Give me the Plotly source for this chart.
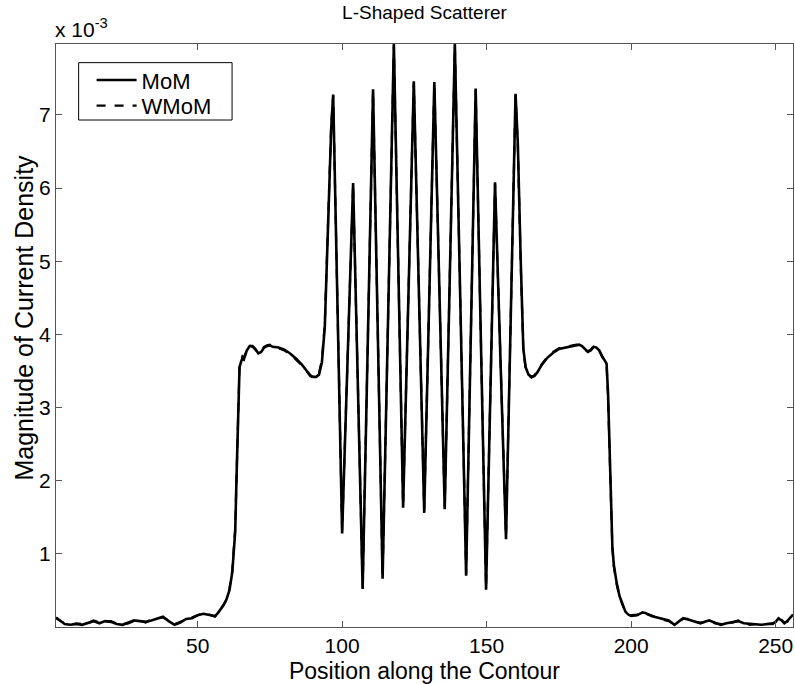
import plotly.graph_objects as go

# Position along the contour (vertices of the plotted polyline)
position = [
    1, 2, 3, 4, 6, 8, 10, 12, 14, 16, 18, 20, 22, 24, 26, 28, 30, 32, 34, 36,
    38, 40, 42, 44, 46, 48, 50, 52, 54, 56, 57, 58, 59, 60, 61, 62, 63, 63.5,
    64, 64.5, 65, 65.5, 66, 67, 68, 69, 70, 71, 72, 73, 74, 75, 76, 78, 80,
    82, 84, 86, 88, 89, 90, 91, 92, 93, 94, 95, 96.2, 96.9,
    100.0, 103.8, 107.1, 110.7, 114.0, 117.9, 121.1, 124.8, 128.4, 131.9,
    135.5, 139.0, 142.9, 146.2, 149.8, 152.9, 156.7, 160.0,
    160.8, 161.8, 162.7, 163.5, 164.5, 165.5, 166.5, 167.5, 169, 171, 173,
    175, 177, 179, 181, 182, 183, 184, 185, 186, 187, 188, 189, 190, 191,
    191.5, 192, 192.5, 193, 193.5, 194, 195, 196, 197, 198, 199, 200, 202,
    204, 205, 207, 209, 211, 213, 215, 216, 218, 220, 222, 224, 226, 227,
    229, 231, 233, 235, 237, 239, 241, 243, 245, 247, 249, 250, 251, 252,
    253, 254, 255, 256,
]

# Magnitude of current density, x 10^-3 (MoM)
mom = [
    0.13, 0.10, 0.06, 0.04, 0.03, 0.04, 0.03, 0.06, 0.08, 0.05, 0.08, 0.07,
    0.04, 0.03, 0.06, 0.09, 0.08, 0.07, 0.09, 0.11, 0.14, 0.08, 0.03, 0.06,
    0.11, 0.12, 0.16, 0.18, 0.16, 0.15, 0.19, 0.24, 0.30, 0.38, 0.50, 0.75,
    1.30, 2.10, 3.00, 3.55, 3.62, 3.68, 3.66, 3.78, 3.84, 3.84, 3.80, 3.74,
    3.76, 3.82, 3.84, 3.85, 3.83, 3.82, 3.79, 3.74, 3.67, 3.59, 3.49, 3.44,
    3.42, 3.42, 3.45, 3.62, 4.10, 5.30, 6.80, 7.28,
    1.28, 6.07, 0.52, 7.35, 0.66, 7.97, 1.63, 7.46, 1.56, 7.45,
    1.61, 7.97, 0.70, 7.36, 0.51, 6.08, 1.20, 7.29,
    6.60, 5.00, 3.80, 3.55, 3.45, 3.42, 3.43, 3.48, 3.58, 3.68, 3.75,
    3.80, 3.82, 3.83, 3.85, 3.86, 3.84, 3.80, 3.76, 3.78, 3.83, 3.82, 3.78,
    3.70, 3.63, 3.60, 3.20, 2.40, 1.60, 1.10, 0.85, 0.60, 0.42, 0.30, 0.21,
    0.17, 0.15, 0.16, 0.20, 0.19, 0.15, 0.13, 0.11, 0.09, 0.03, 0.06, 0.12,
    0.10, 0.08, 0.05, 0.08, 0.09, 0.06, 0.03, 0.05, 0.07, 0.08, 0.05, 0.04,
    0.03, 0.03, 0.04, 0.05, 0.07, 0.12, 0.09, 0.05, 0.08, 0.13, 0.17,
]

# Magnitude of current density, x 10^-3 (WMoM)
wmom = [
    0.12, 0.09, 0.07, 0.05, 0.03, 0.05, 0.04, 0.05, 0.09, 0.06, 0.07, 0.08,
    0.05, 0.04, 0.05, 0.08, 0.09, 0.06, 0.10, 0.12, 0.13, 0.09, 0.04, 0.07,
    0.10, 0.13, 0.15, 0.19, 0.17, 0.14, 0.18, 0.25, 0.31, 0.37, 0.52, 0.78,
    1.35, 2.15, 3.05, 3.58, 3.64, 3.70, 3.68, 3.79, 3.85, 3.83, 3.79, 3.75,
    3.77, 3.83, 3.85, 3.86, 3.84, 3.81, 3.78, 3.73, 3.66, 3.58, 3.48, 3.43,
    3.41, 3.43, 3.47, 3.65, 4.15, 5.35, 6.85, 7.26,
    1.32, 6.05, 0.55, 7.33, 0.68, 7.95, 1.66, 7.44, 1.60, 7.43,
    1.64, 7.95, 0.73, 7.34, 0.54, 6.06, 1.24, 7.27,
    6.55, 4.95, 3.78, 3.54, 3.44, 3.41, 3.44, 3.49, 3.59, 3.69, 3.76,
    3.81, 3.83, 3.84, 3.86, 3.85, 3.83, 3.79, 3.77, 3.79, 3.84, 3.81, 3.77,
    3.69, 3.62, 3.58, 3.15, 2.35, 1.55, 1.08, 0.83, 0.58, 0.41, 0.29, 0.20,
    0.16, 0.16, 0.17, 0.19, 0.18, 0.16, 0.12, 0.10, 0.08, 0.04, 0.07, 0.11,
    0.11, 0.07, 0.06, 0.07, 0.10, 0.05, 0.04, 0.06, 0.06, 0.09, 0.06, 0.03,
    0.04, 0.04, 0.05, 0.04, 0.08, 0.11, 0.10, 0.06, 0.07, 0.12, 0.16,
]

x_ticks = [50, 100, 150, 200, 250]
y_ticks = [1, 2, 3, 4, 5, 6, 7]

FONT = "Liberation Sans, Arial, sans-serif"

fig = go.Figure()
fig.add_trace(go.Scatter(x=position, y=mom, mode="lines", name="MoM",
                         legend="legend",
                         line=dict(color="black", width=2.6)))
fig.add_trace(go.Scatter(x=position, y=wmom, mode="lines", name="WMoM",
                         legend="legend2",
                         line=dict(color="black", width=2.2, dash="dash")))

axis_common = dict(
    showgrid=False, zeroline=False, showline=True, linecolor="#555555",
    linewidth=1, mirror="ticks", ticks="inside", ticklen=6, tickcolor="#555555",
    tickfont=dict(family=FONT, size=21, color="black"),
)

legend_common = dict(xanchor="left", yanchor="middle",
                     bgcolor="rgba(0,0,0,0)", borderwidth=0, itemwidth=40,
                     font=dict(size=22, family=FONT, color="black"))

fig.update_layout(
    width=795, height=684,
    margin=dict(l=56, r=2, t=44, b=57),
    paper_bgcolor="white", plot_bgcolor="white",
    font=dict(family=FONT, color="black"),
    title=dict(text="L-Shaped Scatterer", xref="paper", x=0.5, xanchor="center",
               y=0.982, yanchor="middle", font=dict(size=19, family=FONT)),
    xaxis=dict(range=[1, 256], tickvals=x_ticks,
               title=dict(text="Position along the Contour", standoff=8,
                          font=dict(size=23, family=FONT)),
               **axis_common),
    yaxis=dict(range=[0, 7.97], tickvals=y_ticks, **axis_common),
    legend=dict(x=0.0483, y=0.938, **legend_common),
    legend2=dict(x=0.0483, y=0.894, **legend_common),
    showlegend=True,
)

fig.add_shape(type="rect", xref="paper", yref="paper",
              x0=0.0307, x1=0.2389, y0=0.8696, y1=0.968,
              line=dict(color="black", width=1), fillcolor="white", layer="below")

fig.add_annotation(text="x 10<sup>-3</sup>", xref="paper", yref="paper",
                   x=0.0, y=1.0, xanchor="left", yanchor="bottom",
                   yshift=1, xshift=-3, showarrow=False,
                   font=dict(size=21, family=FONT))

# y-axis title
fig.add_annotation(text="Magnitude of Current Density", xref="paper", yref="paper",
                   x=-0.0440, y=0.530, xanchor="center", yanchor="middle",
                   textangle=-90, showarrow=False,
                   font=dict(size=25, family=FONT))

fig.write_html("out.html")
